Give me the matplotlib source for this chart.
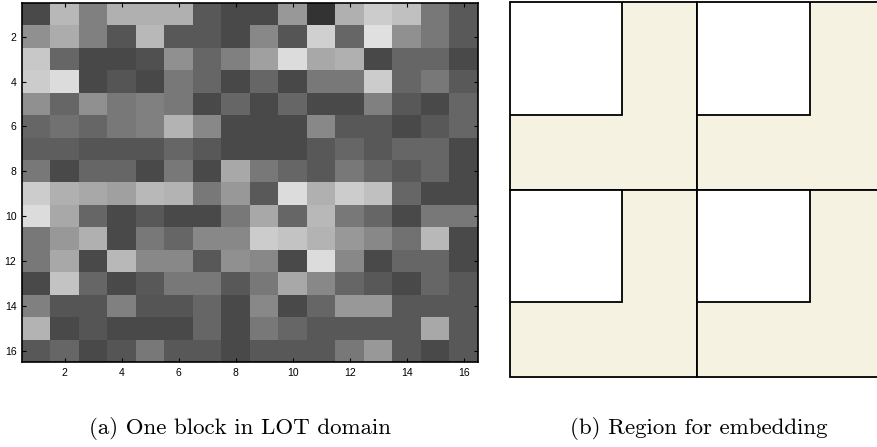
import numpy as np
import matplotlib
matplotlib.use("Agg")
import matplotlib.pyplot as plt
from matplotlib.patches import Rectangle

# 16x16 LOT block, gray levels (0-255), read row by row
block_values = [
    [74, 184, 128, 176, 176, 176, 88, 74, 74, 152, 51, 176, 204, 192, 120, 90],
    [144, 172, 128, 85, 184, 88, 88, 74, 136, 85, 208, 102, 224, 144, 120, 90],
    [200, 102, 72, 72, 80, 144, 102, 128, 160, 220, 168, 176, 72, 102, 102, 74],
    [204, 220, 72, 85, 72, 120, 102, 72, 102, 72, 120, 120, 204, 102, 120, 90],
    [144, 102, 144, 120, 128, 120, 74, 102, 74, 102, 74, 74, 128, 88, 74, 102],
    [102, 114, 102, 120, 128, 180, 136, 74, 74, 74, 136, 88, 88, 74, 88, 102],
    [94, 94, 85, 85, 85, 102, 88, 74, 74, 74, 88, 102, 88, 102, 102, 74],
    [120, 74, 102, 102, 74, 120, 74, 168, 120, 102, 88, 120, 102, 88, 102, 74],
    [204, 176, 168, 160, 184, 180, 120, 152, 90, 220, 176, 204, 192, 102, 74, 74],
    [220, 168, 102, 74, 88, 74, 74, 120, 168, 102, 184, 120, 102, 74, 120, 120],
    [120, 152, 176, 74, 120, 102, 136, 136, 204, 196, 180, 152, 136, 114, 184, 74],
    [120, 168, 74, 184, 136, 136, 88, 144, 136, 74, 220, 136, 74, 102, 102, 74],
    [74, 196, 102, 74, 88, 120, 120, 88, 120, 168, 136, 102, 88, 74, 102, 88],
    [128, 85, 85, 128, 85, 85, 102, 74, 136, 74, 102, 152, 152, 88, 88, 88],
    [180, 74, 85, 74, 74, 74, 102, 74, 120, 102, 88, 88, 88, 88, 168, 88],
    [88, 102, 74, 85, 120, 88, 88, 74, 88, 88, 88, 120, 152, 88, 74, 88],
]
tick_values = [2, 4, 6, 8, 10, 12, 14, 16]

# embedding region: 2x2 blocks, each with an unused square in its top-left
region_block_cols = [0, 1]
region_block_rows = [0, 1]
white_fraction = 0.6

captions = ["(a) One block in LOT domain", "(b) Region for embedding"]

fig = plt.figure(figsize=(8.78, 4.47), dpi=100)

# ---- left panel
axL = fig.add_axes([22 / 878, (447 - 362) / 447, 456 / 878, 359 / 447])
data = np.array(block_values, dtype=float)
n = data.shape[0]
axL.imshow(data, cmap="gray", vmin=0, vmax=255, interpolation="nearest",
           extent=(0.5, n + 0.5, n + 0.5, 0.5), aspect="auto")
axL.set_xticks(tick_values)
axL.set_yticks(tick_values)
axL.tick_params(direction="in", top=True, right=True, length=3, width=0.8,
                labelsize=7.5, pad=4)
for lab in axL.get_xticklabels() + axL.get_yticklabels():
    lab.set_fontfamily("Liberation Sans")
for sp in axL.spines.values():
    sp.set_linewidth(1.2)

# ---- right panel
axR = fig.add_axes([510 / 878, (447 - 377) / 447, 368 / 878, 375 / 447])
axR.set_xlim(0, 368 / 187.5)
axR.set_ylim(2, 0)
beige = "#F5F2E1"
for r in region_block_rows:
    for c in region_block_cols:
        axR.add_patch(Rectangle((c, r), 1, 1, facecolor=beige,
                                edgecolor="black", linewidth=1.3,
                                clip_on=False))
        axR.add_patch(Rectangle((c, r), white_fraction, white_fraction,
                                facecolor="white", edgecolor="black",
                                linewidth=1.3))
axR.set_xticks([])
axR.set_yticks([])
for sp in axR.spines.values():
    sp.set_visible(False)

# ---- captions
fig.text(240 / 878, 1 - 428 / 447, captions[0], ha="center", va="center",
         fontname="cmr10", fontsize=16.5)
fig.text(699 / 878, 1 - 428 / 447, captions[1], ha="center", va="center",
         fontname="cmr10", fontsize=16.5)

fig.savefig("out.png", dpi=100)
